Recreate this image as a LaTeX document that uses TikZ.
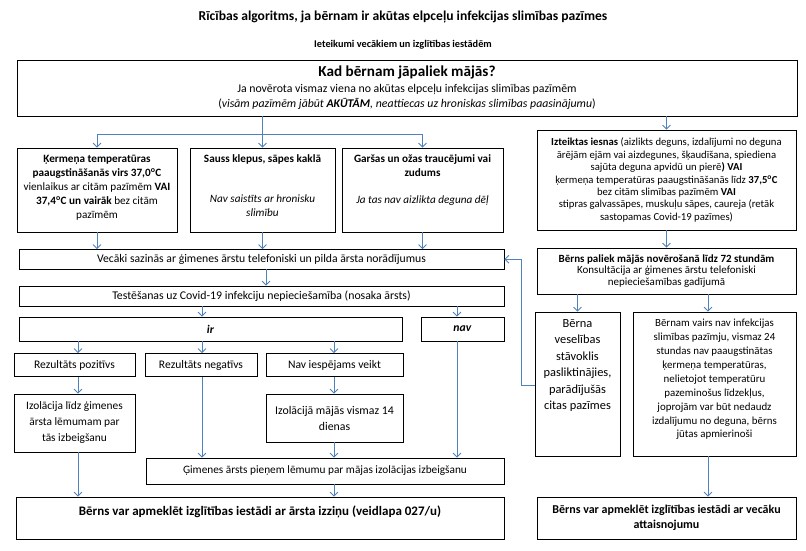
\documentclass[tikz,border=0pt]{standalone}
\usepackage{fontspec}
\setmainfont{Carlito}
\usetikzlibrary{arrows.meta}
\definecolor{conn}{RGB}{79,129,189}
\newcommand{\fsz}[2]{\fontsize{#1}{#2}\selectfont}
\newcommand{\tbx}[5]{\parbox[c][#2pt][t]{#1pt}{\centering#4\vspace*{#3pt}\strut#5}}
\begin{document}
\begin{tikzpicture}[x=1pt,y=-1pt,
  box/.style={draw=black, line width=0.8pt, inner sep=0pt, align=center},
  arr/.style={draw=conn, line width=0.8pt, -{Straight Barb[length=4pt,width=8pt]}},
  ln/.style={draw=conn, line width=0.8pt}]
\useasboundingbox (0,0) rectangle (806,551);

\node[font=\bfseries\fsz{13.6}{16}] (title) at (403,17) {Rīcības algoritms, ja bērnam ir akūtas elpceļu infekcijas slimības pazīmes};
\node[font=\bfseries\fsz{10.3}{12}] (sub) at (403,45) {Ieteikumi vecākiem un izglītības iestādēm};

\node[box, minimum width=780, minimum height=56, font=\fsz{11.8}{15.5}] (top) at (407,88)
  {{\fsz{15.2}{15.5}\bfseries Kad bērnam jāpaliek mājās?}\\
   Ja novērota vismaz viena no akūtas elpceļu infekcijas slimības pazīmēm\\
   (\textit{visām pazīmēm jābūt \textbf{AKŪTĀM}, neattiecas uz hroniskas slimības paasinājumu})};

\node[box] (b1) at (97,190) {\tbx{160}{84}{5}{\fsz{11.2}{14}}{%
  \textbf{Ķermeņa temperatūras}\\
  \textbf{paaugstināšanās virs 37,0\textsuperscript{o}C}\\
  vienlaikus ar citām pazīmēm \textbf{VAI}\\
  \textbf{37,4\textsuperscript{o}C un vairāk} bez citām\\
  pazīmēm}};
\node[box] (b2) at (262.5,190) {\tbx{145}{84}{5}{\fsz{11.2}{14}}{%
  \textbf{Sauss klepus, sāpes kaklā}\\[26pt]
  \textit{Nav saistīts ar hronisku}\\
  \textit{slimību}}};
\node[box] (b3) at (422.5,190) {\tbx{161}{84}{5}{\fsz{11.2}{14}}{%
  \textbf{Garšas un ožas traucējumi vai}\\
  \textbf{zudums}\\[13pt]
  \textit{Ja tas nav aizlikta deguna dēļ}}};

\node[box, minimum width=485, minimum height=19.5, font=\fsz{11.7}{13}] (vec) at (261.5,259.25)
  {Vecāki sazinās ar ģimenes ārstu telefoniski un pilda ārsta norādījumus};
\node[box, minimum width=485, minimum height=20, font=\fsz{11.8}{13}] (test) at (261.5,296)
  {Testēšanas uz Covid-19 infekciju nepieciešamība (nosaka ārsts)};
\node[box, minimum width=383, minimum height=24, font=\fsz{11.7}{13}] (ir) at (210.5,329) {\textbf{\textit{ir}}};
\node[box, minimum width=83, minimum height=24, font=\fsz{11.7}{13}] (nav) at (462.5,329) {\textbf{\textit{nav}}};

\node[box, minimum width=121, minimum height=23, font=\fsz{11.6}{13}] (rp) at (74.5,365) {Rezultāts pozitīvs};
\node[box, minimum width=112, minimum height=23, font=\fsz{11.6}{13}] (rn) at (201,365) {Rezultāts negatīvs};
\node[box, minimum width=137, minimum height=23, font=\fsz{11.6}{13}] (ni) at (334.5,365) {Nav iespējams veikt};

\node[box, minimum width=121, minimum height=58, font=\fsz{11.4}{16}] (il) at (74.5,423)
  {Izolācija līdz ģimenes\\ārsta lēmumam par\\tās izbeigšanu};
\node[box, minimum width=137, minimum height=48, font=\fsz{11.8}{16}] (im) at (334.5,418)
  {Izolācijā mājās vismaz 14\\dienas};
\node[box, minimum width=358, minimum height=26, font=\fsz{11.3}{13}] (gim) at (325,471)
  {Ģimenes ārsts pieņem lēmumu par mājas izolācijas izbeigšanu};
\node[box, minimum width=488, minimum height=42, font=\bfseries\fsz{13}{15}] (fl) at (260,518)
  {Bērns var apmeklēt izglītības iestādi ar ārsta izziņu (veidlapa 027/u)\\\mbox{}};

\node[box, minimum width=259, minimum height=100, font=\fsz{10.7}{12.4}] (iz) at (666.5,180)
  {\textbf{Izteiktas iesnas} (aizlikts deguns, izdalījumi no deguna\\
   ārējām ejām vai aizdegunes, šķaudīšana, spiediena\\
   sajūta deguna apvidū un pierē\textbf{) VAI}\\
   ķermeņa temperatūras paaugstināšanās līdz \textbf{37,5\textsuperscript{o}C}\\
   bez citām slimības pazīmēm \textbf{VAI}\\
   stipras galvassāpes, muskuļu sāpes, caureja (retāk\\
   sastopamas Covid-19 pazīmes)};
\node[box, minimum width=259, minimum height=46, font=\fsz{11}{11.7}] (bp) at (666.5,271)
  {\textbf{Bērns paliek mājās novērošanā līdz 72 stundām}\\
   Konsultācija ar ģimenes ārstu telefoniski\\
   nepieciešamības gadījumā};
\node[box] (bv) at (577.5,384) {\tbx{85}{144}{3.5}{\fsz{12.4}{16.5}}{%
  Bērna\\veselības\\stāvoklis\\pasliktinājies,\\parādījušās\\citas pazīmes}};
\node[box] (bn) at (714.5,384) {\tbx{163}{144}{5}{\fsz{10.9}{13.9}}{%
  Bērnam vairs nav infekcijas\\
  slimības pazīmju, vismaz 24\\
  stundas nav paaugstinātas\\
  ķermeņa temperatūras,\\
  nelietojot temperatūru\\
  pazeminošus līdzekļus,\\
  joprojām var būt nedaudz\\
  izdalījumu no deguna, bērns\\
  jūtas apmierinoši}};
\node[box, minimum width=259, minimum height=42, font=\bfseries\fsz{12}{15}] (rf) at (666.5,518)
  {Bērns var apmeklēt izglītības iestādi ar vecāku\\attaisnojumu};

% connectors
\coordinate (hub) at (262.5,134);
\coordinate (c266) at (266,0);
\coordinate (c202) at (202,0);
\coordinate (c457) at (457,0);
\coordinate (c78) at (78,0);
\coordinate (c334) at (334,0);
\coordinate (c707) at (708,0);
\coordinate (fb) at (521,385);

\draw[ln] (top.south -| hub) -- (hub);
\draw[ln] (b1.north |- hub) -- (b3.north |- hub);
\foreach \b in {b1,b2,b3} {\draw[arr] (\b.north |- hub) -- (\b.north);}
\draw[arr] (top.south -| iz.north) -- (iz.north);
\foreach \b in {b1,b2,b3} {\draw[arr] (\b.south) -- (\b.south |- vec.north);}
\draw[arr] (vec.south -| c266) -- (test.north -| c266);
\draw[arr] (test.south -| c202) -- (ir.north -| c202);
\draw[arr] (test.south -| c457) -- (nav.north -| c457);
\draw[arr] (ir.south -| c78) -- (rp.north -| c78);
\draw[arr] (ir.south -| c202) -- (rn.north -| c202);
\draw[arr] (ir.south -| c334) -- (ni.north -| c334);
\draw[arr] (rp.south -| c78) -- (il.north -| c78);
\draw[arr] (rn.south -| c202) -- (gim.north -| c202);
\draw[arr] (ni.south -| c334) -- (im.north -| c334);
\draw[arr] (im.south -| c334) -- (gim.north -| c334);
\draw[arr] (nav.south -| c457) -- (gim.north -| c457);
\draw[arr] (il.south -| c78) -- (fl.north -| c78);
\draw[arr] (gim.south -| c334) -- (fl.north -| c334);
\draw[arr] (iz.south) -- (bp.north);
\draw[arr] (bp.south -| bv.north) -- (bv.north);
\draw[arr] (bp.south -| c707) -- (bn.north -| c707);
\draw[arr] (bn.south -| c707) -- (rf.north -| c707);
\draw[arr] (bv.west |- fb) -- (fb) -- (fb |- vec.east) -- (vec.east);
\end{tikzpicture}
\end{document}
